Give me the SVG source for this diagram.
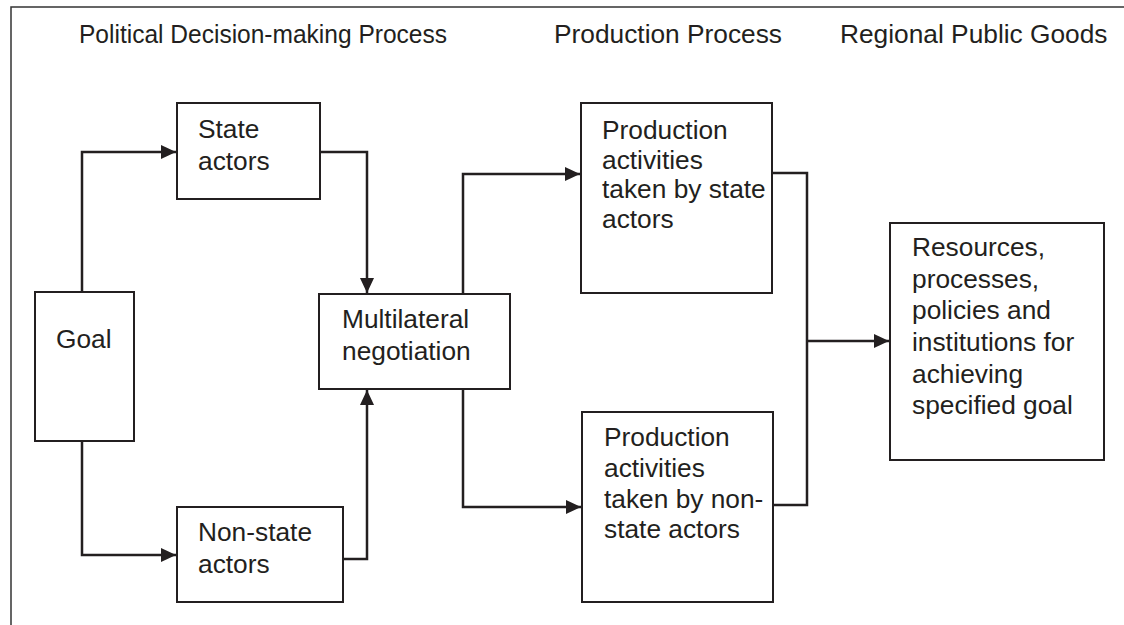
<svg xmlns="http://www.w3.org/2000/svg" width="1124" height="625" viewBox="0 0 1124 625">
<style>
  .box { fill: #fff; stroke: #231f20; stroke-width: 2; }
  .t { font-family: "Liberation Sans", Arial, sans-serif; font-size: 26.3px; fill: #231f20; }
  .h { font-family: "Liberation Sans", Arial, sans-serif; font-size: 26.3px; fill: #231f20; }
  .c { fill: none; stroke: #231f20; stroke-width: 2.5; }
</style>
<defs>
  <marker id="arr" markerUnits="userSpaceOnUse" markerWidth="16" markerHeight="14" refX="15" refY="7" orient="auto">
    <path d="M0,0 L15,7 L0,14 z" fill="#231f20"/>
  </marker>
</defs>
<rect width="1124" height="625" fill="#fff"/>
<path d="M11,625 V7 H1124" fill="none" stroke="#333" stroke-width="1.5"/>
<g id="headers">
  <text class="h" x="79" y="43" textLength="368" lengthAdjust="spacingAndGlyphs">Political Decision-making Process</text>
  <text class="h" x="554" y="43">Production Process</text>
  <text class="h" x="840" y="43">Regional Public Goods</text>
</g>
<g id="connectors">
  <path class="c" d="M82,292 V152 H176" marker-end="url(#arr)"/>
  <path class="c" d="M82,441 V555 H176" marker-end="url(#arr)"/>
  <path class="c" d="M320,152 H367 V293" marker-end="url(#arr)"/>
  <path class="c" d="M343,559 H367 V390" marker-end="url(#arr)"/>
  <path class="c" d="M463,294 V174 H580" marker-end="url(#arr)"/>
  <path class="c" d="M463,389 V507 H581" marker-end="url(#arr)"/>
  <path class="c" d="M772,173 H807 V505 H773"/>
  <path class="c" d="M807,341 H889" marker-end="url(#arr)"/>
</g>
<g id="goal">
  <rect class="box" x="35" y="292" width="99" height="149"/>
  <text class="t" x="56" y="348">Goal</text>
</g>
<g id="state-actors">
  <rect class="box" x="177" y="103" width="143" height="96"/>
  <text class="t" x="198" y="138">State</text>
  <text class="t" x="198" y="170">actors</text>
</g>
<g id="non-state-actors">
  <rect class="box" x="177" y="507" width="166" height="95"/>
  <text class="t" x="198" y="541">Non-state</text>
  <text class="t" x="198" y="573">actors</text>
</g>
<g id="multilateral">
  <rect class="box" x="319" y="294" width="191" height="95"/>
  <text class="t" x="342" y="328">Multilateral</text>
  <text class="t" x="342" y="360">negotiation</text>
</g>
<g id="prod-state">
  <rect class="box" x="581" y="103" width="191" height="190"/>
  <text class="t" x="602" y="139">Production</text>
  <text class="t" x="602" y="169">activities</text>
  <text class="t" x="602" y="198">taken by state</text>
  <text class="t" x="602" y="228">actors</text>
</g>
<g id="prod-non-state">
  <rect class="box" x="582" y="412" width="191" height="190"/>
  <text class="t" x="604" y="446">Production</text>
  <text class="t" x="604" y="477">activities</text>
  <text class="t" x="604" y="508">taken by non-</text>
  <text class="t" x="604" y="538">state actors</text>
</g>
<g id="resources">
  <rect class="box" x="890" y="223" width="214" height="237"/>
  <text class="t" x="912" y="256">Resources,</text>
  <text class="t" x="912" y="288">processes,</text>
  <text class="t" x="912" y="319">policies and</text>
  <text class="t" x="912" y="351">institutions for</text>
  <text class="t" x="912" y="383">achieving</text>
  <text class="t" x="912" y="414">specified goal</text>
</g>
</svg>
